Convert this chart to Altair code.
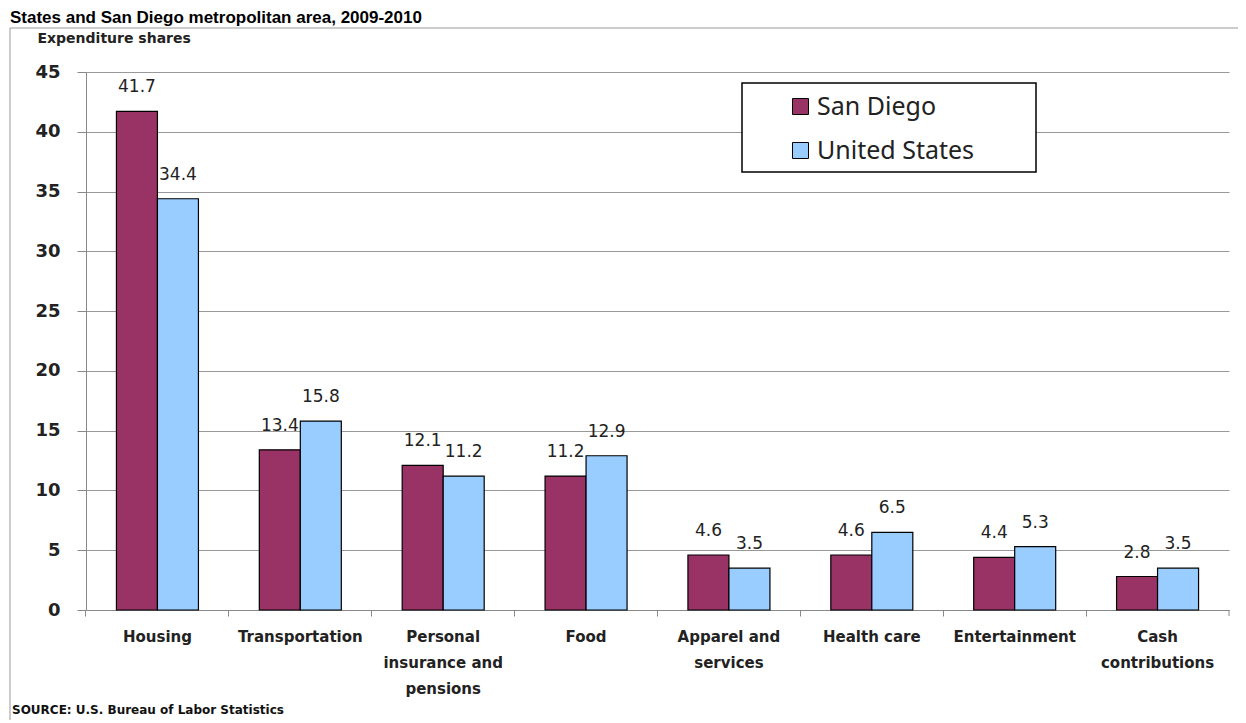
import altair as alt
import pandas as pd

# ---- data ----
category_labels = [
    "Housing",
    "Transportation",
    "Personal|insurance and|pensions",
    "Food",
    "Apparel and|services",
    "Health care",
    "Entertainment",
    "Cash|contributions",
]
series_names = ["San Diego", "United States"]
san_diego = [41.7, 13.4, 12.1, 11.2, 4.6, 4.6, 4.4, 2.8]
united_states = [34.4, 15.8, 11.2, 12.9, 3.5, 6.5, 5.3, 3.5]
series_colors = ["#993366", "#99CCFF"]
y_ticks = [0, 5, 10, 15, 20, 25, 30, 35, 40, 45]

title_text = "States and San Diego metropolitan area, 2009-2010"
y_title = "Expenditure shares"
source_text = "SOURCE: U.S. Bureau of Labor Statistics"

rows = []
for cat, sd, us in zip(category_labels, san_diego, united_states):
    rows.append({"category": cat, "series": series_names[0], "value": sd})
    rows.append({"category": cat, "series": series_names[1], "value": us})
df = pd.DataFrame(rows)

W, H = 1143, 538
P_IN = 0.426

x_enc = alt.X(
    "category:N",
    sort=category_labels,
    scale=alt.Scale(paddingInner=P_IN, paddingOuter=P_IN / 2),
    axis=alt.Axis(
        title=None,
        labelExpr="split(datum.label, '|')",
        labelAngle=0,
        labelFont="DejaVu Sans",
        labelFontWeight="bold",
        labelFontSize=15,
        labelColor="#222222",
        labelLineHeight=26,
        labelBaseline="top",
        labelPadding=13,
        bandPosition=-0.372,
        tickSize=6,
        tickColor="#888888",
        domainColor="#888888",
        grid=False,
        labelLimit=300,
    ),
)
xoff_enc = alt.XOffset("series:N", sort=series_names,
                       scale=alt.Scale(paddingInner=0, paddingOuter=0))
y_enc = alt.Y(
    "value:Q",
    scale=alt.Scale(domain=[0, 45], nice=False),
    axis=alt.Axis(
        values=y_ticks,
        title=y_title,
        titleAngle=0,
        titleAlign="left",
        titleBaseline="middle",
        titleX=-49,
        titleY=-34,
        titleFont="DejaVu Sans",
        titleFontWeight="bold",
        titleFontSize=14,
        titleColor="#222222",
        labelFont="DejaVu Sans",
        labelFontWeight="bold",
        labelFontSize=18,
        labelColor="#222222",
        labelPadding=17,
        tickSize=9,
        tickColor="#888888",
        domainColor="#888888",
        gridColor="#999999",
        gridWidth=1,
    ),
)

color_enc = alt.Color(
    "series:N",
    scale=alt.Scale(domain=series_names, range=series_colors),
    legend=alt.Legend(
        title=None,
        orient="none",
        legendX=702,
        legendY=22,
        symbolType="square",
        symbolSize=256,
        symbolStrokeColor="black",
        symbolStrokeWidth=1,
        labelFont="Noto Sans",
        labelFontSize=25,
        labelColor="#222222",
        labelOffset=4,
        labelLimit=400,
        rowPadding=18,
        padding=0,
    ),
)

bars = alt.Chart(df).mark_bar(stroke="black", strokeWidth=1.2).encode(
    x=x_enc, xOffset=xoff_enc, y=y_enc, color=color_enc
)

labels = alt.Chart(df).mark_text(
    dy=-24, font="DejaVu Sans", fontSize=17, color="#222222", baseline="middle"
).encode(
    x=x_enc, xOffset=xoff_enc, y=y_enc,
    text=alt.Text("value:Q", format=".1f"),
)

one = alt.Data(values=[{}])

legend_box = alt.Chart(one).mark_rect(
    fill="white", stroke="black", strokeWidth=1.5
).encode(x=alt.value(656), x2=alt.value(950), y=alt.value(11), y2=alt.value(100))

outer_box = alt.Chart(one).mark_rect(
    fillOpacity=0, stroke="#999999", strokeWidth=1
).encode(x=alt.value(-76), x2=alt.value(1170), y=alt.value(-44), y2=alt.value(700))

end_tick = alt.Chart(one).mark_rule(color="#888888").encode(
    x=alt.value(W), y=alt.value(H), y2=alt.value(H + 6)
)

title_mark = alt.Chart(one).mark_text(
    text=title_text, align="left", baseline="alphabetic",
    font="Liberation Sans", fontWeight="bold", fontSize=17, color="#000000"
).encode(x=alt.value(-76), y=alt.value(-49))

source_mark = alt.Chart(one).mark_text(
    text=source_text, align="left", baseline="middle",
    font="DejaVu Sans", fontWeight="bold", fontSize=12, color="#111111"
).encode(x=alt.value(-74), y=alt.value(638))

chart = alt.layer(
    outer_box, bars, labels, legend_box, end_tick, title_mark, source_mark
).properties(
    width=W,
    height=H,
    autosize=alt.AutoSizeParams(type="none"),
    padding={"left": 78, "top": 64, "right": 9, "bottom": 110},
    background="white",
).configure_view(strokeWidth=0)

chart.save("out.html", embed_options={"renderer": "svg", "actions": False})
